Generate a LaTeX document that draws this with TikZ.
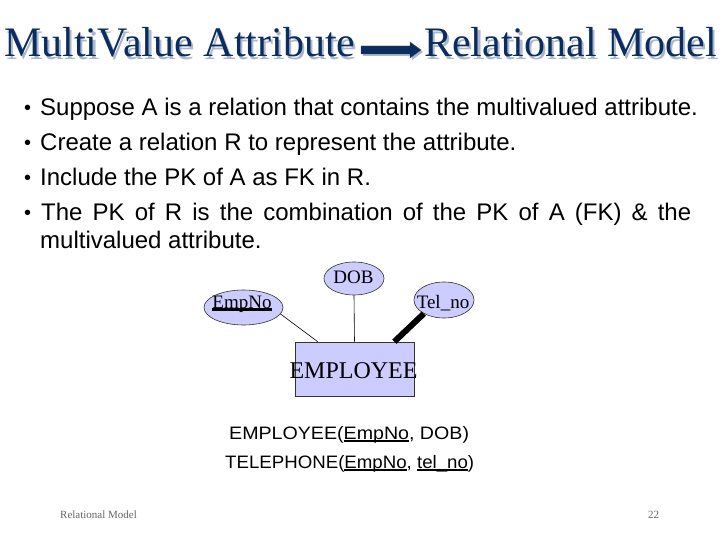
\documentclass[tikz,border=0pt]{standalone}
\usepackage{fontspec}
\setmainfont{Liberation Serif}
\newfontfamily\arialf{Liberation Sans}
\usetikzlibrary{shapes.geometric,calc}
\definecolor{navy}{HTML}{0B2C5E}
\definecolor{shadowc}{HTML}{AAB8CC}
\definecolor{lav}{HTML}{CCCCFF}
\newcommand{\myul}[1]{\setbox0\hbox{#1}\rlap{\rule[-2.6pt]{\wd0}{1.2pt}}\box0}
\newcommand{\shadowed}[1]{\rlap{\hspace{2.2pt}\raisebox{-2.2pt}{\textcolor{shadowc}{#1}}}\textcolor{navy}{#1}}
\begin{document}
\begin{tikzpicture}[x=1pt,y=-1pt,
  attr/.style={ellipse, draw=black!80, line width=0.6pt, fill=lav, inner sep=0pt},
  ent/.style={rectangle, draw=black!80, line width=0.6pt, fill=lav, inner sep=0pt},
  lbl/.style={anchor=base, inner sep=0pt, font=\fontsize{19}{19}\selectfont},
  bul/.style={anchor=base west, inner sep=0pt, font=\arialf\fontsize{24}{28}\selectfont},
  dot/.style={anchor=base west, inner sep=0pt, font=\arialf\fontsize{20}{20}\selectfont},
  ttl/.style={anchor=base west, inner sep=0pt, font=\fontsize{42}{42}\selectfont},
  rel/.style={anchor=base west, inner sep=0pt, font=\arialf\fontsize{18}{18}\selectfont},
  foot/.style={anchor=base west, inner sep=0pt, font=\fontsize{11}{11}\selectfont, text=black!60},
  conn/.style={draw=black, line width=0.6pt}]
\useasboundingbox (0,0) rectangle (720,540);

% title with shadow
\node[ttl] (t1) at (4,57) {\shadowed{MultiValue Attribute}};
\node[ttl] (t2) at (424,57) {\shadowed{Relational Model}};
\fill[shadowc] (363,48) -- (412,48) -- (412,44) -- (423,52) -- (412,60) -- (412,56) -- (363,56) -- cycle;
\filldraw[navy, draw=black!70, line width=0.4pt] (361,46) -- (410,46) -- (410,42) -- (421,50) -- (410,58) -- (410,54) -- (361,54) -- cycle;

% bullets
\node[dot] (d1) at (24,115) {•};
\node[dot] (d2) at (24,150) {•};
\node[dot] (d3) at (24,185) {•};
\node[dot] (d4) at (24,220) {•};
\node[bul] (l1) at (40,116) {Suppose A is a relation that contains the multivalued attribute.};
\node[bul] (l2) at (40,151) {Create a relation R to represent the attribute.};
\node[bul] (l3) at (40,186) {Include the PK of A as FK in R.};
\node[bul] (l4) at (41,221) {\makebox[650pt][s]{The PK of R is the combination of the PK of A (FK) \& the}};
\node[bul] (l5) at (40,248) {multivalued attribute.};

% ER diagram
\node[attr, minimum width=79pt, minimum height=35pt] (emp) at (243.5,307.5) {};
\node[attr, minimum width=60pt, minimum height=33pt] (dob) at (354,278.5) {};
\node[attr, minimum width=60pt, minimum height=36pt] (tel) at (444,300) {};
\node[ent, minimum width=119pt, minimum height=54pt] (ent) at (354.5,369) {};
\node[lbl] (emptxt) at (242,308) {EmpNo};
\node[lbl] (dobtxt) at (353.5,283) {DOB};
\node[lbl] (teltxt) at (443,308) {Tel\_no};
\node[anchor=base, inner sep=0pt, font=\fontsize{24}{24}\selectfont] (enttxt) at (353.5,378) {EMPLOYEE};
\draw[line width=3pt] ($(emptxt.base west)+(0,1.5)$) -- ($(emptxt.base east)+(0,1.5)$);

\draw[conn] (emp.-10.6) -- ($(ent.north west)+(23,0)$);
\draw[conn] (dob.south) -- (ent.north);
\draw[draw=black, line width=6pt] (tel.214.4) -- ($(ent.north east)+(-20,0)$);

% relational schema
\node[rel] (r1) at (229,439) {\scalebox{1.09}[1]{EMPLOYEE(\myul{EmpNo}, DOB)}};
\node[rel] (r2) at (225,468) {\scalebox{1.037}[1]{TELEPHONE(\myul{EmpNo}, \myul{tel\_no})}};

% footer
\node[foot] (f1) at (60,518) {Relational Model};
\node[foot] (f2) at (648,518) {22};
\end{tikzpicture}
\end{document}
